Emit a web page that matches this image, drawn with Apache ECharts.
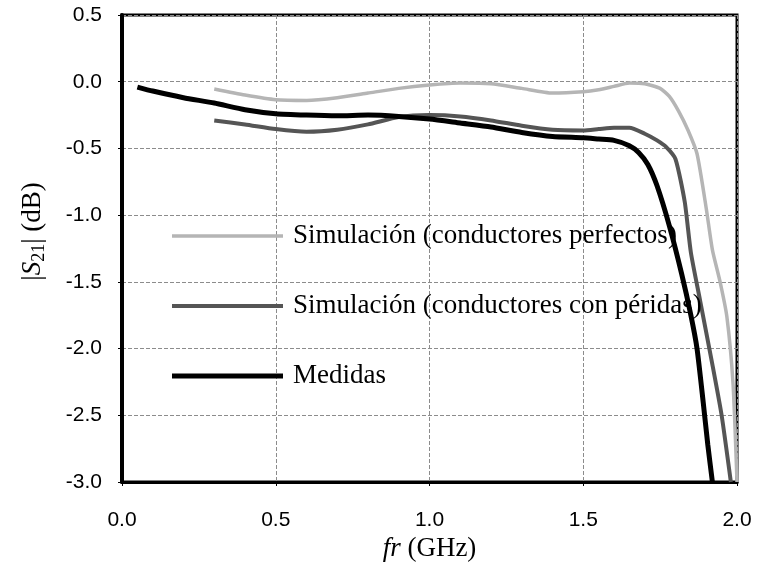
<!DOCTYPE html>
<html>
<head>
<meta charset="utf-8">
<title>|S21| (dB)</title>
<script src="https://cdn.jsdelivr.net/npm/echarts@6/dist/echarts.min.js"></script>
<style>
  html, body { margin: 0; padding: 0; background: #fff; }
  /* 图表容器：与参考图同尺寸 */
  .chart-container { width: 757px; height: 586px; }
</style>
</head>
<body>
<div class="chart-container" id="chart"></div>
<script>
// 坐标轴刻度
const xTicks = [0.0, 0.5, 1.0, 1.5, 2.0]
const yTicks = [-3.0, -2.5, -2.0, -1.5, -1.0, -0.5, 0.0, 0.5]

// 仿真（理想导体）
const freqPerfectos = [0.3, 0.4, 0.5, 0.6, 0.7, 0.8, 0.9, 1.0, 1.1, 1.2, 1.3, 1.4, 1.5, 1.55, 1.6, 1.65, 1.7, 1.75, 1.78, 1.81, 1.84, 1.87, 1.9, 1.92, 1.945, 1.967, 1.987, 2.0]
const s21Perfectos = [-0.055, -0.1, -0.135, -0.14, -0.12, -0.085, -0.05, -0.025, -0.01, -0.015, -0.05, -0.085, -0.075, -0.06, -0.035, -0.01, -0.015, -0.05, -0.11, -0.22, -0.36, -0.54, -0.95, -1.26, -1.5, -1.76, -2.26, -3.0]

// 仿真（有损导体）
const freqPerdidas = [0.3, 0.4, 0.5, 0.6, 0.7, 0.8, 0.9, 1.0, 1.1, 1.2, 1.3, 1.4, 1.5, 1.55, 1.6, 1.65, 1.7, 1.74, 1.77, 1.8, 1.83, 1.85, 1.88, 1.92, 1.95, 1.98]
const s21Perdidas = [-0.29, -0.32, -0.355, -0.375, -0.36, -0.32, -0.265, -0.25, -0.26, -0.29, -0.33, -0.36, -0.365, -0.355, -0.345, -0.345, -0.39, -0.44, -0.49, -0.58, -0.9, -1.28, -1.64, -2.12, -2.5, -3.0]

// 测量值
const freqMedidas = [0.05, 0.1, 0.2, 0.3, 0.4, 0.5, 0.6, 0.7, 0.8, 0.9, 1.0, 1.1, 1.2, 1.3, 1.4, 1.5, 1.55, 1.6, 1.65, 1.68, 1.71, 1.74, 1.78, 1.82, 1.85, 1.87, 1.89, 1.905, 1.92]
const s21Medidas = [-0.04, -0.07, -0.12, -0.16, -0.21, -0.24, -0.25, -0.255, -0.25, -0.26, -0.28, -0.31, -0.34, -0.38, -0.41, -0.42, -0.43, -0.44, -0.48, -0.53, -0.62, -0.78, -1.08, -1.44, -1.75, -2.0, -2.4, -2.72, -3.0]

const serif = '"Liberation Serif", "Times New Roman", serif'
const sans = '"Liberation Sans", Arial, sans-serif'

// 把频率和幅值拼成 [x, y]
const zip = (xs, ys) => xs.map((x, i) => [x, ys[i]])

// 图例图标：30px 高的框里居中画一条粗线（去掉默认的圆点）
const bandIcon = (w) => {
  const a = (15 - w / 2).toFixed(2)
  const b = (15 + w / 2).toFixed(2)
  return `path://M0,0L0,0M0,${a}L111,${a}L111,${b}L0,${b}ZM111,30L111,30`
}

let chartInstance = null

const initChart = () => {
  const chartDom = document.getElementById('chart')
  if (!chartDom) return

  chartInstance = echarts.init(chartDom, null, { renderer: 'canvas' })

  // 网格线样式
  const gridLine = {
    show: true,
    lineStyle: { color: '#8c8c8c', width: 1, type: [4, 2] }
  }

  const option = {
    animation: false,
    backgroundColor: '#fff',
    grid: {
      left: 122,
      right: 20,
      top: 15,
      bottom: 104,
      show: true,
      borderColor: '#000',
      borderWidth: 3,
      outerBoundsMode: 'none'
    },
    legend: {
      orient: 'vertical',
      left: 172,
      top: 221,
      padding: 0,
      itemWidth: 111,
      itemHeight: 30,
      itemGap: 40,
      symbolKeepAspect: false,
      inactiveColor: '#000',
      data: [
        { name: 'Simulación (conductores perfectos)', icon: bandIcon(3.5) },
        { name: 'Simulación (conductores con péridas)', icon: bandIcon(4) },
        { name: 'Medidas', icon: bandIcon(5) }
      ],
      textStyle: {
        fontFamily: serif,
        fontSize: 27,
        color: '#000',
        lineHeight: 30,
        padding: [0, 0, 0, 5]
      }
    },
    xAxis: {
      type: 'value',
      min: xTicks[0],
      max: xTicks[xTicks.length - 1],
      interval: 0.5,
      name: '{i|fr} (GHz)',
      nameLocation: 'middle',
      nameGap: 52,
      nameTextStyle: {
        fontFamily: serif,
        fontSize: 27,
        color: '#000',
        rich: {
          i: { fontFamily: serif, fontSize: 27, fontStyle: 'italic', color: '#000' }
        }
      },
      axisLine: { onZero: false, lineStyle: { color: '#000', width: 3 } },
      axisTick: { show: true, length: 4, lineStyle: { color: '#000' } },
      axisLabel: {
        margin: 28,
        fontFamily: sans,
        fontSize: 21,
        color: '#000',
        formatter: v => v.toFixed(1)
      },
      splitLine: gridLine
    },
    yAxis: {
      type: 'value',
      min: yTicks[0],
      max: yTicks[yTicks.length - 1],
      interval: 0.5,
      name: '|{s|S}{sub|21}| (dB)',
      nameLocation: 'middle',
      nameGap: 74,
      nameTextStyle: {
        fontFamily: serif,
        fontSize: 27,
        color: '#000',
        padding: [0, 0, 0, 34],
        rich: {
          s: { fontFamily: serif, fontSize: 27, fontStyle: 'italic', color: '#000', lineHeight: 30 },
          sub: { fontFamily: serif, fontSize: 18, color: '#000', lineHeight: 30, padding: [12, 0, 0, 0] }
        }
      },
      axisLine: { onZero: false, lineStyle: { color: '#000', width: 4 } },
      axisTick: { show: true, length: 4, lineStyle: { color: '#000' } },
      axisLabel: {
        margin: 20,
        fontFamily: sans,
        fontSize: 21,
        color: '#000',
        formatter: v => v.toFixed(1)
      },
      splitLine: gridLine
    },
    series: [
      {
        name: 'Simulación (conductores perfectos)',
        type: 'line',
        symbol: 'none',
        smooth: 0.2,
        lineStyle: { color: '#b5b5b5', width: 3.5 },
        itemStyle: { color: '#b5b5b5' },
        data: zip(freqPerfectos, s21Perfectos)
      },
      {
        name: 'Simulación (conductores con péridas)',
        type: 'line',
        symbol: 'none',
        smooth: 0.2,
        lineStyle: { color: '#555', width: 4 },
        itemStyle: { color: '#555' },
        data: zip(freqPerdidas, s21Perdidas)
      },
      {
        name: 'Medidas',
        type: 'line',
        symbol: 'none',
        smooth: 0.2,
        lineStyle: { color: '#000', width: 5 },
        itemStyle: { color: '#000' },
        data: zip(freqMedidas, s21Medidas)
      }
    ]
  }

  chartInstance.setOption(option)
  window.addEventListener('resize', handleResize)
}

const handleResize = () => {
  chartInstance?.resize()
}

initChart()
</script>
</body>
</html>
